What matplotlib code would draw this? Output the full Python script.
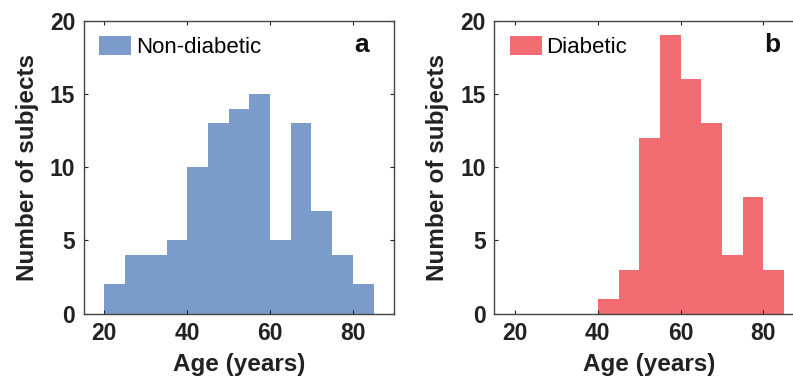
import matplotlib
matplotlib.use("Agg")
import matplotlib.pyplot as plt
import numpy as np

plt.rcParams['font.family'] = ['Liberation Sans', 'DejaVu Sans']

bin_edges = [20, 25, 30, 35, 40, 45, 50, 55, 60, 65, 70, 75, 80, 85]
nondiabetic_counts = [2, 4, 4, 5, 10, 13, 14, 15, 5, 13, 7, 4, 2]
diabetic_counts = [0, 0, 0, 0, 1, 3, 12, 19, 16, 13, 4, 8, 3]
x_ticks = [20, 40, 60, 80]
y_ticks = [0, 5, 10, 15, 20]

W, H = 793, 378
fig = plt.figure(figsize=(W / 100, H / 100), dpi=100)

panels = [
    (83.7, nondiabetic_counts, '#7b9ccb', 'Non-diabetic', 'a'),
    (494.3, diabetic_counts, '#f26d71', 'Diabetic', 'b'),
]
ax_w = 394.3 - 83.7
top, bottom = 20.7, 313.7

for left, counts, color, label, letter in panels:
    ax = fig.add_axes([left / W, 1 - bottom / H, ax_w / W, (bottom - top) / H])
    edges = np.array(bin_edges)
    ax.bar(edges[:-1], counts, width=np.diff(edges), align='edge',
           color=color, edgecolor='none', linewidth=0, label=label)
    ax.set_xlim(15, 90)
    ax.set_ylim(0, 20)
    ax.set_xticks(x_ticks)
    ax.set_yticks(y_ticks)
    ax.tick_params(direction='in', length=3, width=0.8, top=True, right=True,
                   labelsize=16.5, pad=6, colors='#222222', labelcolor='#222222')
    for lab in ax.get_xticklabels() + ax.get_yticklabels():
        lab.set_fontweight('bold')
    for s in ax.spines.values():
        s.set_color('#444444')
        s.set_linewidth(1.0)
    ax.set_xlabel('Age (years)', fontsize=17.5, fontweight='bold', color='#222222', labelpad=6)
    ax.set_ylabel('Number of subjects', fontsize=17.5, fontweight='bold', color='#222222', labelpad=8)
    leg = ax.legend(loc='upper left', frameon=False, fontsize=16,
                    handlelength=1.44, handleheight=0.9, handletextpad=0.2,
                    borderaxespad=0.3, bbox_to_anchor=(0.0, 1.0))
    ax.text((362 - 83.7) / ax_w, 1 - (45 - top) / (bottom - top), letter,
            transform=ax.transAxes, ha='center', va='center',
            fontsize=19, fontweight='bold', color='#111111')

fig.savefig('out.png', dpi=100)
